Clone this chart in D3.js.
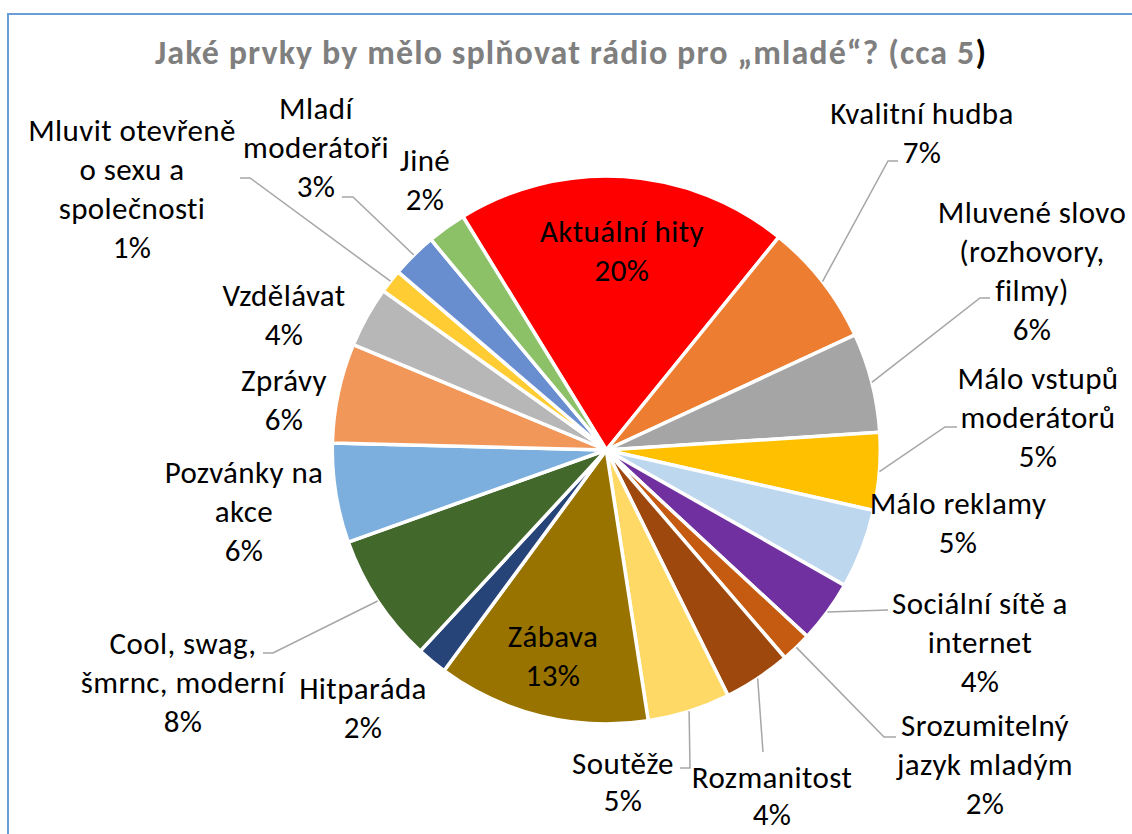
<!DOCTYPE html>
<html>
<head>
<meta charset="utf-8">
<script src="https://cdn.jsdelivr.net/npm/d3@7"></script>
<style>
  html, body { margin: 0; padding: 0; background: #ffffff; }
  svg { display: block; }
  text { font-family: Carlito, Calibri, Lato, "Liberation Sans", sans-serif; }
</style>
</head>
<body>
<svg id="chart" width="1132" height="834"></svg>
<script>
// Answers to "Jaké prvky by mělo splňovat rádio pro mladé", in drawing order (clockwise)
const categories = [
  "Aktuální hity", "Kvalitní hudba", "Mluvené slovo (rozhovory, filmy)",
  "Málo vstupů moderátorů", "Málo reklamy", "Sociální sítě a internet",
  "Srozumitelný jazyk mladým", "Rozmanitost", "Soutěže", "Zábava", "Hitparáda",
  "Cool, swag, šmrnc, moderní", "Pozvánky na akce", "Zprávy", "Vzdělávat",
  "Mluvit otevřeně o sexu a společnosti", "Mladí moderátoři", "Jiné"
];

// Share of answers (percent)
const shares = [
  19.7, 7.3, 5.9, 4.6, 4.7, 3.7, 1.8, 4.0, 4.9, 12.6, 1.8, 7.7, 5.9, 5.9, 3.6, 1.4, 2.7, 2.3
];

// How each category name wraps inside its label
const labelLines = [
  ["Aktuální hity"], ["Kvalitní hudba"], ["Mluvené slovo", "(rozhovory,", "filmy)"],
  ["Málo vstupů", "moderátorů"], ["Málo reklamy"], ["Sociální sítě a", "internet"],
  ["Srozumitelný", "jazyk mladým"], ["Rozmanitost"], ["Soutěže"], ["Zábava"], ["Hitparáda"],
  ["Cool, swag,", "šmrnc, moderní"], ["Pozvánky na", "akce"], ["Zprávy"], ["Vzdělávat"],
  ["Mluvit otevřeně", "o sexu a", "společnosti"], ["Mladí", "moderátoři"], ["Jiné"]
];

const sliceColors = [
  "#FF0000", "#ED7D31", "#A5A5A5", "#FFC000", "#BDD7EE", "#7030A0",
  "#C55A11", "#9E480E", "#FFD966", "#997300", "#264478", "#43682B",
  "#7CAFDD", "#F1975A", "#B7B7B7", "#FFCD33", "#698ED0", "#8CC168"
];

// Label placement: centre x, centre y of the first line, line step, optional leader (elbow, end)
const labelLayout = [
  { x: 622, y: 231 },
  { x: 922, y: 113, elbow: [888, 161], end: [898, 161] },
  { x: 1032, y: 212, elbow: [980, 298], end: [990, 298] },
  { x: 1038, y: 378, elbow: [945, 427], end: [957, 427] },
  { x: 958, y: 503 },
  { x: 980, y: 603, elbow: [888, 610], end: [888, 610] },
  { x: 985, y: 725, elbow: [884, 737], end: [896, 737] },
  { x: 772, y: 777, step: 37, elbow: [763, 752], end: [763, 752] },
  { x: 623, y: 763, step: 37, elbow: [690, 768], end: [680, 768] },
  { x: 553, y: 636 },
  { x: 363, y: 688 },
  { x: 183, y: 643, elbow: [273, 653], end: [263, 653] },
  { x: 244, y: 472 },
  { x: 284, y: 380 },
  { x: 284, y: 295 },
  { x: 132, y: 130, elbow: [250, 178], end: [240, 178] },
  { x: 316, y: 108, elbow: [353, 197], end: [342, 197] },
  { x: 425, y: 160 }
];

const titleText = "Jaké prvky by mělo splňovat rádio pro „mladé“? (cca 5";

const svg = d3.select("#chart");
const W = 1132, H = 834;
const cx = 606.3, cy = 450, R = 274;
const lineStep = 39;
const labelSize = 31;

svg.append("rect").attr("width", W).attr("height", H).attr("fill", "#ffffff");

// chart area frame
svg.append("rect")
  .attr("x", 8).attr("y", 14)
  .attr("width", 1200).attr("height", 900)
  .attr("fill", "none")
  .attr("stroke", "#6A9FD6")
  .attr("stroke-width", 2);

// title
const title = svg.append("text")
  .attr("x", 571).attr("y", 64)
  .attr("text-anchor", "middle")
  .attr("font-size", 34)
  .attr("font-weight", "bold")
  .attr("letter-spacing", 1.1)
  .attr("fill", "#7F7F7F");
title.append("tspan").text(titleText);
title.append("tspan").attr("fill", "#000000").text(")");

const data = categories.map((c, i) => ({ name: c, value: shares[i], i }));
const total = d3.sum(shares);
const pct = d3.format(".0%");

const start = -31.56 * Math.PI / 180;
const pie = d3.pie().sort(null).value(d => d.value)
  .startAngle(start).endAngle(start + 2 * Math.PI);
const arc = d3.arc().innerRadius(0).outerRadius(R);
const arcs = pie(data);

const g = svg.append("g").attr("transform", `translate(${cx},${cy})`);
g.selectAll("path.slice")
  .data(arcs)
  .join("path")
  .attr("class", "slice")
  .attr("d", arc)
  .attr("fill", d => sliceColors[d.data.i])
  .attr("stroke", "#ffffff")
  .attr("stroke-width", 3.5)
  .attr("stroke-linejoin", "round");

// leader lines from the slice rim to the label
const rimPoint = d => {
  const a = (d.startAngle + d.endAngle) / 2;
  return [cx + R * Math.sin(a), cy - R * Math.cos(a)];
};
arcs.forEach(d => {
  const lay = labelLayout[d.data.i];
  if (!lay.elbow) return;
  const pts = [rimPoint(d), lay.elbow, lay.end];
  svg.append("path")
    .attr("d", d3.line()(pts))
    .attr("fill", "none")
    .attr("stroke", "#A6A6A6")
    .attr("stroke-width", 1.5);
});

// data labels: category name + share
arcs.forEach(d => {
  const lay = labelLayout[d.data.i];
  const step = lay.step || lineStep;
  const lines = labelLines[d.data.i].concat([pct(d.data.value / total)]);
  const t = svg.append("text")
    .attr("text-anchor", "middle")
    .attr("font-size", labelSize)
    .attr("letter-spacing", 0.4)
    .attr("fill", "#000000");
  lines.forEach((ln, k) => {
    t.append("tspan")
      .attr("x", lay.x)
      .attr("y", lay.y + k * step)
      .attr("dy", "0.36em")
      .text(ln);
  });
});
</script>
</body>
</html>
